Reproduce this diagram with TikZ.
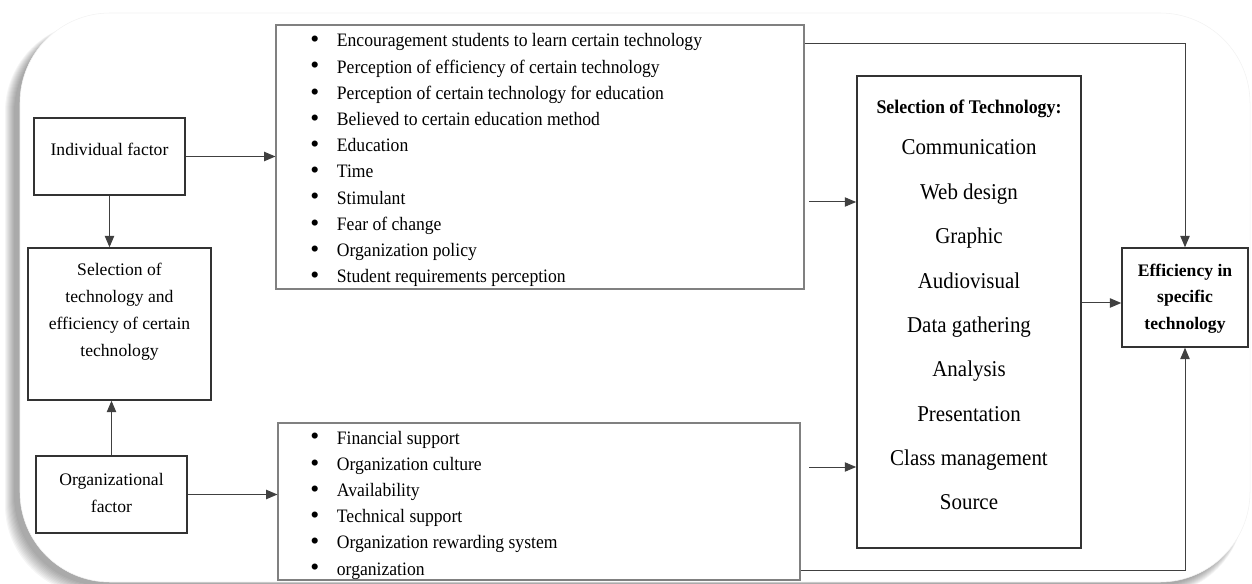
\documentclass[tikz,border=0pt]{standalone}
\usepackage{fontspec}
\setmainfont{Liberation Serif}
\usetikzlibrary{arrows.meta}
\newcommand\bul{\makebox[20pt][l]{\raisebox{-0.6pt}{\scalebox{1.45}{\textbullet}}}}
\newcommand\vst[1]{\scalebox{1}[1.08]{#1}}
\begin{document}
\begin{tikzpicture}[x=0.75pt,y=-0.75pt,
  box/.style={draw=black!80, line width=1.1pt, inner sep=0pt},
  listbox/.style={draw=black!50, line width=0.8pt, inner sep=0pt},
  txt/.style={align=center, inner sep=0pt, font=\fontsize{13.2}{20.25}\selectfont},
  item/.style={anchor=base west, inner sep=0pt, font=\fontsize{13.2}{15}\selectfont},
  techitem/.style={anchor=base, inner sep=0pt, font=\fontsize{15.7}{18}\selectfont},
  conn/.style={draw=black!75, line width=0.75pt, -{Triangle[length=8.5pt,width=7pt]}}]
\useasboundingbox (0,0) rectangle (1252,584);
% background card with shadow (falling to the lower left)
\foreach \i in {0,...,9}
  \fill[black, opacity=0.04, rounded corners=67.5pt] (14-\i,22) rectangle (1244,586+\i);
\fill[white, draw=black!5, rounded corners=67.5pt] (20,13) rectangle (1250,582);
% boxes
\node[box, minimum width=113.25pt, minimum height=57.75pt] (ind) at (109.5,156.5) {};
\node[txt] (indt) at (109.5,149) {Individual factor};
\node[box, minimum width=137.25pt, minimum height=114pt] (sel) at (119.5,324) {};
\node[txt] (selt) at (119.5,312) {Selection of\\technology and\\efficiency of certain\\technology};
\node[box, minimum width=113.25pt, minimum height=57.75pt] (org) at (111.5,494.5) {};
\node[txt] (orgt) at (111.5,493) {Organizational\\factor};
\node[listbox, minimum width=396pt, minimum height=198pt] (l1) at (540,157) {};
\node[listbox, minimum width=391.5pt, minimum height=117.75pt] (l2) at (539,501.5) {};
\node[box, line width=1.3pt, minimum width=168pt, minimum height=354pt] (tech) at (969,312) {};
\node[box, minimum width=94.5pt, minimum height=74.25pt] (eff) at (1185,297.5) {};
% list texts
\foreach \t [count=\i from 0] in {Encouragement students to learn certain technology,
  Perception of efficiency of certain technology,
  Perception of certain technology for education,
  Believed to certain education method,
  Education, Time, Stimulant, Fear of change, Organization policy,
  Student requirements perception}
  \node[item] (a\i) at (310,47+26.2*\i) {\bul\vst{\t}};
\foreach \t [count=\i from 0] in {Financial support, Organization culture, Availability,
  Technical support, Organization rewarding system, organization}
  \node[item] (b\i) at (310,444+26.2*\i) {\bul\vst{\t}};
% technology box texts
\node[techitem, font=\fontsize{13.4}{15}\selectfont\bfseries] (techt) at (969,114) {\vst{Selection of Technology:}};
\foreach \t [count=\i from 0] in {Communication, Web design, Graphic, Audiovisual,
  Data gathering, Analysis, Presentation, Class management, Source}
  \node[techitem] (c\i) at (969,155+44.35*\i) {\vst{\t}};
\node[txt, font=\fontsize{13.2}{20}\selectfont\bfseries] (efft) at (1185,298.5) {Efficiency in\\specific\\technology};
% connectors
\coordinate (f1) at (809,202);
\coordinate (f2) at (809,467);
\draw[conn] (ind.east) -- (ind.east -| l1.west);
\draw[conn] (ind.south) -- (ind.south |- sel.north);
\draw[conn] (org.north) -- (org.north |- sel.south);
\draw[conn] (org.east) -- (org.east -| l2.west);
\draw[conn] ([yshift=-14.25pt]l1.north east) -| (eff.north);
\draw[conn] ([yshift=7.5pt]l2.south east) -| (eff.south);
\draw[conn] (f1) -- (f1 -| tech.west);
\draw[conn] (f2) -- (f2 -| tech.west);
\draw[conn] ([yshift=6.75pt]tech.east) -- ([yshift=6.75pt]tech.east -| eff.west);
\end{tikzpicture}
\end{document}
